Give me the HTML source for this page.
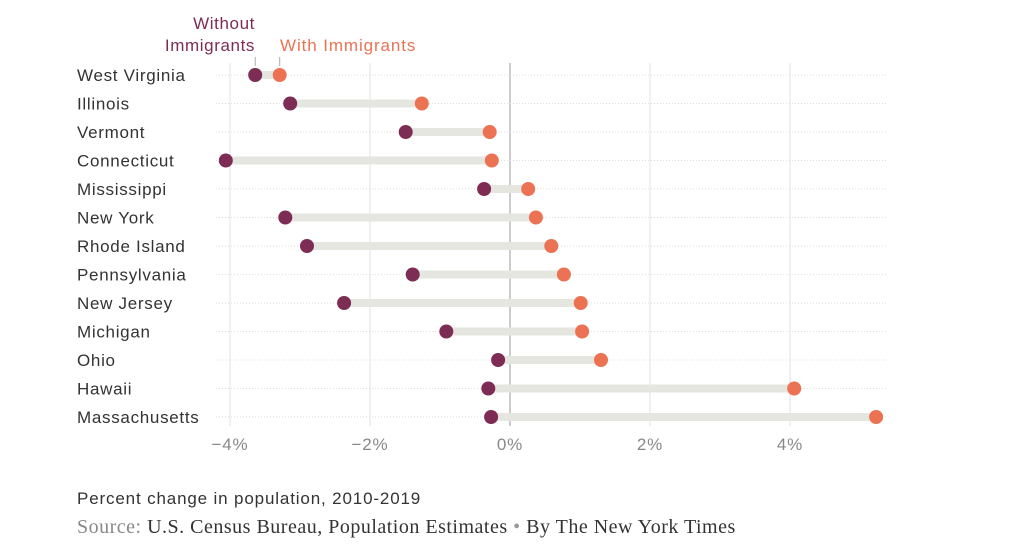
<!DOCTYPE html>
<html><head><meta charset="utf-8"><style>
body{margin:0;background:#fff;width:1028px;height:554px;overflow:hidden;font-family:"Liberation Sans",sans-serif;}
svg{position:absolute;left:0;top:0}
.t{position:absolute;font-size:17px;color:#333;letter-spacing:0.85px}
</style></head><body>
<svg id="chart" width="1028" height="554"></svg>
<div class="t" style="left:77px;top:489px;">Percent change in population, 2010-2019</div>
<div class="t" style="left:77px;top:516px;font-family:'Liberation Serif',serif;font-size:20px;letter-spacing:0.5px;color:#333"><span style="color:#888">Source:</span> U.S. Census Bureau, Population Estimates <span style="color:#999">&#8226;</span> By The New York Times</div>
<script>
const states=["West Virginia","Illinois","Vermont","Connecticut","Mississippi","New York","Rhode Island","Pennsylvania","New Jersey","Michigan","Ohio","Hawaii","Massachusetts"];
const without=[-3.64,-3.14,-1.49,-4.06,-0.37,-3.21,-2.90,-1.39,-2.37,-0.91,-0.17,-0.31,-0.27];
const withImm=[-3.29,-1.26,-0.29,-0.26,0.26,0.37,0.59,0.77,1.01,1.03,1.30,4.06,5.23];
const ticks=[-4,-2,0,2,4];
const tickLabels=["\u22124%","\u22122%","0%","2%","4%"];
const NS="http://www.w3.org/2000/svg";
const svg=document.getElementById('chart');
const x=v=>510+v*70;
const y=i=>75+i*28.5;
const F='Liberation Sans, sans-serif';
function mk(t,a){const e=document.createElementNS(NS,t);for(const k in a)e.setAttribute(k,a[k]);svg.appendChild(e);return e;}
ticks.forEach((t,i)=>{
  const g=mk('line',{x1:x(t),x2:x(t),y1:63,y2:426,stroke:t===0?'#999':'#e2e2e2','stroke-width':1});
  
  
  const l=mk('text',{x:x(t),y:450,'text-anchor':'middle','font-size':17,'letter-spacing':0.8,fill:'#888','font-family':F});
  l.textContent=tickLabels[i];
  
  
});
states.forEach((s,i)=>{
  const r=mk('line',{x1:216,x2:886,y1:y(i),y2:y(i),stroke:'#ddd','stroke-dasharray':'1,2'});
  
  
  const lb=mk('text',{x:77,y:y(i)+6,'font-size':17,'letter-spacing':0.7,fill:'#333','font-family':F});
  lb.textContent=s;
  
  
  const b=mk('line',{x1:x(without[i]),x2:x(withImm[i]),y1:y(i),y2:y(i),stroke:'#e6e6e1','stroke-width':8});
  
  
  const d1=mk('circle',{cx:x(without[i]),cy:y(i),r:7,fill:'#7d2c54'});
  
  
  const d2=mk('circle',{cx:x(withImm[i]),cy:y(i),r:7,fill:'#ec7254'});
  
  
});
const a1=mk('line',{x1:x(without[0]),x2:x(without[0]),y1:57,y2:66,stroke:'#aaa'});


const a2=mk('line',{x1:x(withImm[0]),x2:x(withImm[0]),y1:57,y2:66,stroke:'#aaa'});


const t1=mk('text',{x:255,y:29,'text-anchor':'end','font-size':17,'letter-spacing':0.6,fill:'#7d2c54','font-family':F});
t1.textContent='Without';


const t2=mk('text',{x:255,y:51,'text-anchor':'end','font-size':17,'letter-spacing':0.6,fill:'#7d2c54','font-family':F});
t2.textContent='Immigrants';


const t3=mk('text',{x:280,y:51,'font-size':17,'letter-spacing':0.9,fill:'#ec7254','font-family':F});
t3.textContent='With Immigrants';


</script>
</body></html>
